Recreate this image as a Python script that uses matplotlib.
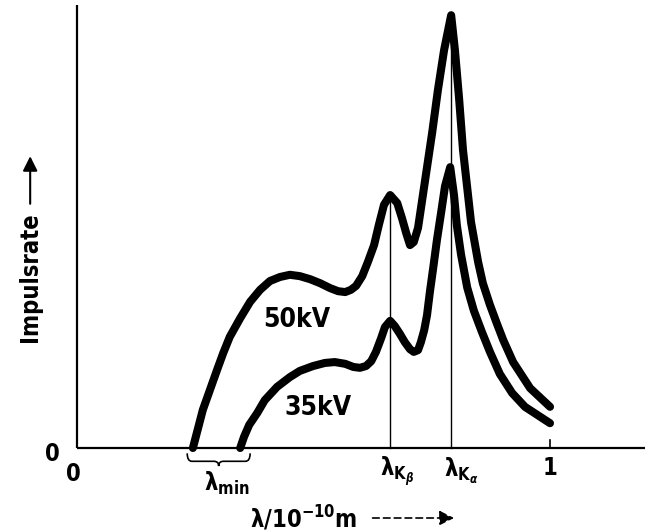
# X-ray spectrum sketch: Impulsrate vs wavelength for 50 kV and 35 kV
import numpy as np
import matplotlib.pyplot as plt
from matplotlib.path import Path
from matplotlib.patches import PathPatch

plt.rcParams['font.family'] = ['DejaVu Sans']
plt.rcParams['font.stretch'] = 'condensed'
plt.rcParams['font.weight'] = 'bold'
plt.rcParams['mathtext.fontset'] = 'dejavusans'

# wavelength in 1e-10 m, intensity in arbitrary units
lam_50 = [0.245, 0.256, 0.266, 0.281, 0.296, 0.309, 0.323, 0.345, 0.366, 0.387,
          0.408, 0.429, 0.450, 0.471, 0.493, 0.514, 0.535, 0.552, 0.567, 0.579,
          0.590, 0.603, 0.615, 0.628, 0.638, 0.649, 0.662, 0.677, 0.687, 0.696,
          0.704, 0.712, 0.721, 0.736, 0.751, 0.763, 0.776, 0.791, 0.799, 0.808,
          0.816, 0.825, 0.833, 0.848, 0.858, 0.873, 0.888, 0.901, 0.922, 0.958,
          1.000]
rate_50 = [0.000, 0.045, 0.086, 0.131, 0.176, 0.214, 0.251, 0.293, 0.330, 0.357,
           0.377, 0.386, 0.391, 0.388, 0.381, 0.372, 0.361, 0.354, 0.352, 0.357,
           0.366, 0.388, 0.420, 0.458, 0.503, 0.549, 0.571, 0.553, 0.519, 0.485,
           0.458, 0.465, 0.497, 0.605, 0.713, 0.808, 0.898, 0.977, 0.898, 0.786,
           0.673, 0.587, 0.510, 0.420, 0.372, 0.323, 0.280, 0.244, 0.194, 0.135,
           0.093]

lam_35 = [0.345, 0.353, 0.364, 0.381, 0.397, 0.423, 0.450, 0.471, 0.499, 0.524,
          0.545, 0.567, 0.584, 0.598, 0.611, 0.622, 0.632, 0.643, 0.651, 0.662,
          0.672, 0.683, 0.693, 0.704, 0.712, 0.721, 0.727, 0.734, 0.740, 0.746,
          0.753, 0.761, 0.770, 0.778, 0.789, 0.797, 0.803, 0.812, 0.825, 0.839,
          0.856, 0.873, 0.894, 0.920, 0.947, 1.000]
rate_35 = [0.000, 0.025, 0.052, 0.079, 0.108, 0.138, 0.160, 0.174, 0.185, 0.192,
           0.194, 0.190, 0.183, 0.181, 0.185, 0.196, 0.217, 0.248, 0.273, 0.287,
           0.275, 0.257, 0.239, 0.223, 0.217, 0.221, 0.239, 0.266, 0.300, 0.352,
           0.406, 0.470, 0.533, 0.591, 0.634, 0.571, 0.503, 0.436, 0.362, 0.310,
           0.262, 0.217, 0.167, 0.124, 0.093, 0.056]

lam_kb = 0.662
lam_ka = 0.791

fig = plt.figure(figsize=(6.51, 5.32), dpi=100)
ax = fig.add_axes([0, 0, 1, 1])
ax.set_xlim(-0.1628, 1.2135)
ax.set_ylim(-0.1896, 1.0113)
ax.axis('off')

# axes lines
ax.plot([0, 0], [0, 1.0], color='black', lw=1.6, solid_capstyle='butt')
ax.plot([0, 1.2], [0, 0], color='black', lw=1.6, solid_capstyle='butt')
ax.plot([1.0, 1.0], [0, 0.018], color='black', lw=1.2)

# characteristic lines
ax.plot([lam_kb, lam_kb], [0, max(rate_50[20:30])], color='black', lw=1.0)
ax.plot([lam_ka, lam_ka], [0, max(rate_50)], color='black', lw=1.0)

# spectra
for lam, rate in [(lam_50, rate_50), (lam_35, rate_35)]:
    ax.plot(lam, rate, color='black', lw=5.8,
            solid_joinstyle='round', solid_capstyle='round')

fs = 17
ax.text(0.465, 0.29, '50kV', fontsize=19, ha='center', va='center')
ax.text(0.510, 0.09, '35kV', fontsize=19, ha='center', va='center')

# tick labels
ax.text(-0.053, -0.014, '0', fontsize=fs, ha='center', va='center')
ax.text(-0.008, -0.059, '0', fontsize=fs, ha='center', va='center')
ax.text(1.0, -0.046, '1', fontsize=fs, ha='center', va='center')
ax.text(0.317, -0.080, r'λ$_{\mathbf{min}}$', fontsize=fs, ha='center', va='center')
ax.text(0.677, -0.052, r'λ$_{\mathbf{K}_{\beta}}$', fontsize=fs, ha='center', va='center')
ax.text(0.812, -0.052, r'λ$_{\mathbf{K}_{\alpha}}$', fontsize=fs, ha='center', va='center')

# brace under lambda_min
x0, x1 = 0.233, 0.366
xm = (x0 + x1) / 2
yb, h = -0.012, 0.018
verts = [(x0, yb), (x0, yb - h), (x0 + 0.01, yb - h), (xm - 0.01, yb - h),
         (xm, yb - h), (xm, yb - 1.6 * h), (xm, yb - h), (xm + 0.01, yb - h),
         (x1 - 0.01, yb - h), (x1, yb - h), (x1, yb)]
codes = [Path.MOVETO, Path.CURVE3, Path.CURVE3, Path.LINETO,
         Path.CURVE3, Path.CURVE3, Path.CURVE3, Path.CURVE3,
         Path.LINETO, Path.CURVE3, Path.CURVE3]
ax.add_patch(PathPatch(Path(verts, codes), fill=False, lw=1.2, color='black'))

# axis titles
ax.text(-0.099, 0.385, 'Impulsrate', fontsize=fs, rotation=90,
        ha='center', va='center')
ax.annotate('', xy=(-0.099, 0.665), xytext=(-0.099, 0.545),
            arrowprops=dict(arrowstyle='-|>', color='black', lw=1.5,
                            mutation_scale=22))
ax.text(0.366, -0.158, r'λ/10$^{\mathbf{-10}}$m', fontsize=fs,
        ha='left', va='center')
ax.annotate('', xy=(0.803, -0.158), xytext=(0.619, -0.158),
            arrowprops=dict(arrowstyle='-|>', color='black', lw=1.2,
                            linestyle=(0, (4, 2.5)), mutation_scale=22))

plt.savefig('out.png', dpi=100)
